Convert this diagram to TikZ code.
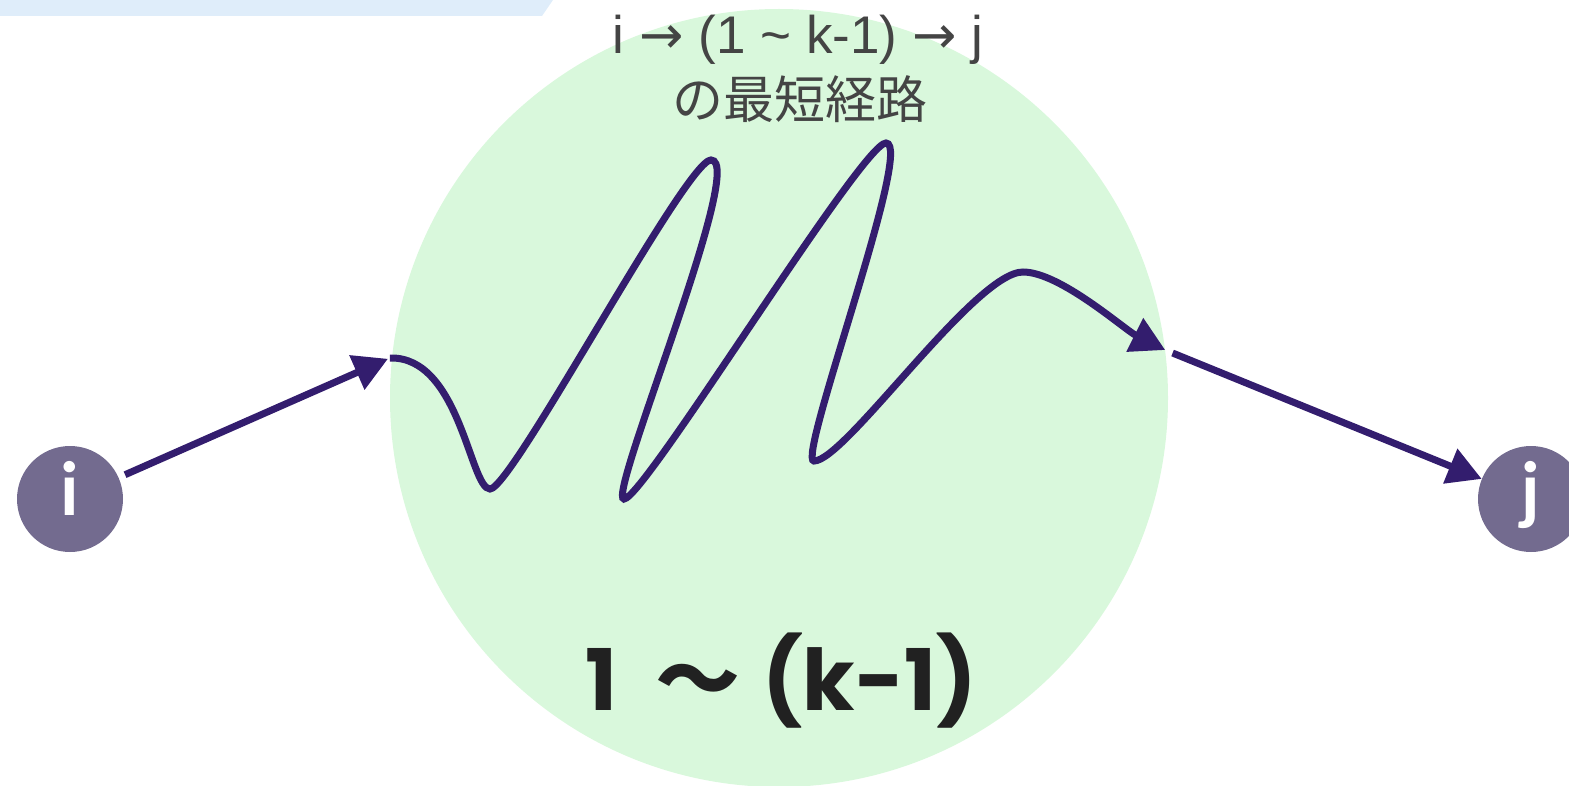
\documentclass[tikz,border=0pt]{standalone}
\usepackage{fontspec}
\setmainfont{Liberation Sans}
\newfontfamily\cjkfont{Noto Sans CJK JP}
\newfontfamily\rangefont{Poppins}
\newfontfamily\vertexfont{Lato}
\newfontfamily\arrowfont{DejaVu Sans}
\usetikzlibrary{arrows.meta,positioning,calc,backgrounds}
\definecolor{pathPurple}{HTML}{331D6E}
\definecolor{vertexGray}{HTML}{736B8F}
\definecolor{setGreen}{HTML}{D9F8DC}
\definecolor{bandBlue}{HTML}{DFEDFA}
\definecolor{labelGray}{HTML}{444444}
\def\pathwidth{7pt}
\def\tiplength{34pt}
\def\tipwidth{36pt}
\def\to{{\arrowfont →}}

\begin{document}
\begin{tikzpicture}[x=1pt,y=-1pt,
    vertex/.style={circle, fill=vertexGray, minimum size=106pt, inner sep=0pt,
      text height=52pt, text depth=20pt,
      text=white, font=\vertexfont\bfseries\fontsize{73}{73}\selectfont},
    hop/.style={draw=pathPurple, line width=\pathwidth,
      -{Triangle[length=\tiplength,width=\tipwidth]}},
  ]
  \useasboundingbox (0,0) rectangle (1569,786);

  % band in the corner
  \fill[bandBlue] (0,0) -- (553,0) -- (542,16) -- (0,16) -- cycle;

  % the set 1 .. k-1
  \node[circle, fill=setGreen, minimum size=778pt, inner sep=0pt] (set) at (779,398) {};
  \node[anchor=base, text=black!87,
    font=\rangefont\bfseries\fontsize{85}{85}\selectfont] (set-label) at (781,710)
    {1 \hspace{20pt}{\cjkfont\bfseries 〜} \hspace{4pt}(k-1)};

  \node[vertex] (i) at (70,499) {i};
  \node[vertex] (j) at (1531,499) {j};

  \coordinate (path-in) at ($ (set.west) + (0,-40) $);
  \coordinate (path-out) at ($ (set.east) + (-3,-48) $);

  \draw[hop, shorten <=7pt, shorten >=2pt] (i) -- (path-in);

  % the wiggly shortest path inside the set
  \draw[hop] (path-in)
    .. controls (460,356) and (470,489) .. (490,489)
    .. controls (512,489) and (686,160) .. (711,160)
    .. controls (748,160) and (606,499) .. (624,499)
    .. controls (644,499) and (862,143) .. (886,143)
    .. controls (915,143) and (796,461) .. (814,461)
    .. controls (845,461) and (975,272) .. (1023,272)
    .. controls (1060,272) and (1125,330) .. (path-out);

  \draw[hop, shorten <=8pt] (path-out) -- (j);

  \node[anchor=base, text=labelGray, font=\fontsize{53}{53}\selectfont]
    (route-head) at (798,54) {i \to{} (1 \textasciitilde{} k-1) \to{} j};
  \node[text=labelGray, font=\cjkfont\fontsize{51}{51}\selectfont]
    (route-tail) at (800,99) {の最短経路};

\end{tikzpicture}
\end{document}
